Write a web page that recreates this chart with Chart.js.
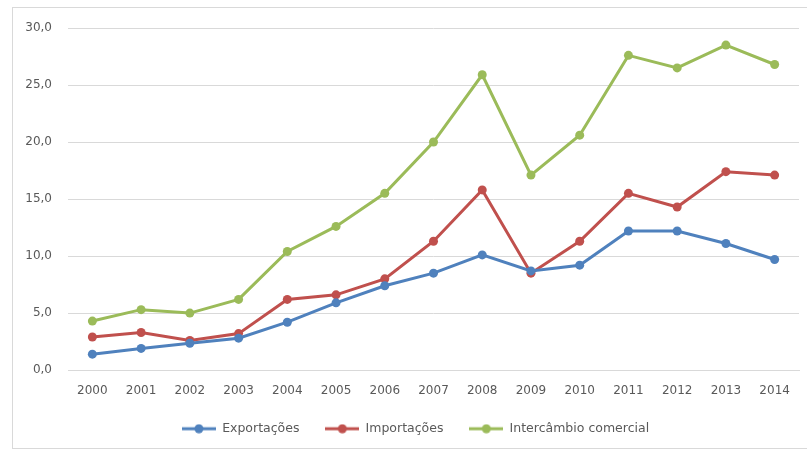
<!DOCTYPE html>
<html>
<head>
<meta charset="utf-8">
<script src="https://cdn.jsdelivr.net/npm/chart.js@4"></script>
<style>
    html, body { margin: 0; padding: 0; background: #fff; }
    #wrap { position: relative; width: 807px; height: 452px; overflow: hidden; }
    #frame { position: absolute; left: 12px; top: 7px; width: 820px; height: 442px; border: 1px solid #d9d9d9; box-sizing: border-box; }
    canvas { position: absolute; left: 0; top: 0; }
</style>
</head>
<body>
<div id="wrap">
    <div id="frame"></div>
    <canvas id="chart" width="807" height="452"></canvas>
</div>
<script>
// dados
const anos = ["2000", "2001", "2002", "2003", "2004", "2005", "2006", "2007", "2008", "2009", "2010", "2011", "2012", "2013", "2014"];
const exportacoes = [1.4, 1.9, 2.35, 2.8, 4.2, 5.9, 7.4, 8.5, 10.1, 8.7, 9.2, 12.2, 12.2, 11.1, 9.7];
const importacoes = [2.9, 3.3, 2.6, 3.2, 6.2, 6.6, 8.0, 11.3, 15.8, 8.5, 11.3, 15.5, 14.3, 17.4, 17.1];
const intercambio = [4.3, 5.3, 5.0, 6.2, 10.4, 12.6, 15.5, 20.0, 25.9, 17.1, 20.6, 27.6, 26.5, 28.5, 26.8];
const nomes = ["Exportações", "Importações", "Intercâmbio comercial"];
const cores = ["#4f81bd", "#c0504d", "#9bbb59"];

// icone da legenda: linha com ponto
function iconeLegenda(cor) {
    const c = document.createElement("canvas");
    c.width = 34;
    c.height = 10;
    const ctx = c.getContext("2d");
    ctx.strokeStyle = cor;
    ctx.lineWidth = 3;
    ctx.beginPath();
    ctx.moveTo(0, 5);
    ctx.lineTo(34, 5);
    ctx.stroke();
    ctx.fillStyle = cor;
    ctx.beginPath();
    ctx.arc(17, 5, 4.5, 0, Math.PI * 2);
    ctx.fill();
    return c;
}

// desloca a legenda um pouco para a direita
const deslocaLegenda = {
    id: "deslocaLegenda",
    afterLayout(chart) {
        chart.legend.left += 10;
        chart.legend.right += 10;
    },
};

const series = [exportacoes, importacoes, intercambio];
const fonte = "'DejaVu Sans', sans-serif";

new Chart(document.getElementById("chart"), {
    type: "line",
    data: {
        labels: anos,
        datasets: series.map((s, i) => ({
            label: nomes[i],
            data: s,
            borderColor: cores[i],
            backgroundColor: cores[i],
            borderWidth: 3,
            pointRadius: 4.5,
            pointBorderWidth: 0,
            tension: 0,
        })),
    },
    plugins: [deslocaLegenda],
    options: {
        responsive: false,
        animation: false,
        layout: { padding: { left: 12, right: 8, top: 28, bottom: 7 } },
        plugins: {
            legend: {
                position: "bottom",
                labels: {
                    usePointStyle: true,
                    pointStyleWidth: 34,
                    color: "#595959",
                    font: { family: fonte, size: 12.5 },
                    padding: 10,
                    generateLabels: function(chart) {
                        return chart.data.datasets.map((d, i) => ({
                            // espaços extras para afastar os itens
                            text: i < 2 ? d.label + "    " : d.label,
                            pointStyle: iconeLegenda(cores[i]),
                            fontColor: "#595959",
                            strokeStyle: cores[i],
                            fillStyle: cores[i],
                            lineWidth: 0,
                            datasetIndex: i,
                        }));
                    },
                },
            },
            tooltip: { enabled: false },
        },
        scales: {
            x: {
                offset: true,
                afterFit: function(scale) { scale.height += 8; },
                grid: { display: false },
                border: { color: "#d9d9d9", width: 1 },
                ticks: { color: "#595959", font: { family: fonte, size: 12 }, padding: 6, maxRotation: 0 },
            },
            y: {
                min: 0,
                max: 30,
                afterFit: function(scale) { scale.width = 56; },
                border: { display: false },
                grid: { color: "#d9d9d9", drawTicks: false },
                ticks: {
                    stepSize: 5,
                    padding: 16,
                    color: "#595959",
                    font: { family: fonte, size: 12 },
                    callback: (v) => v.toFixed(1).replace(".", ","),
                },
            },
        },
    },
});
</script>
</body>
</html>
